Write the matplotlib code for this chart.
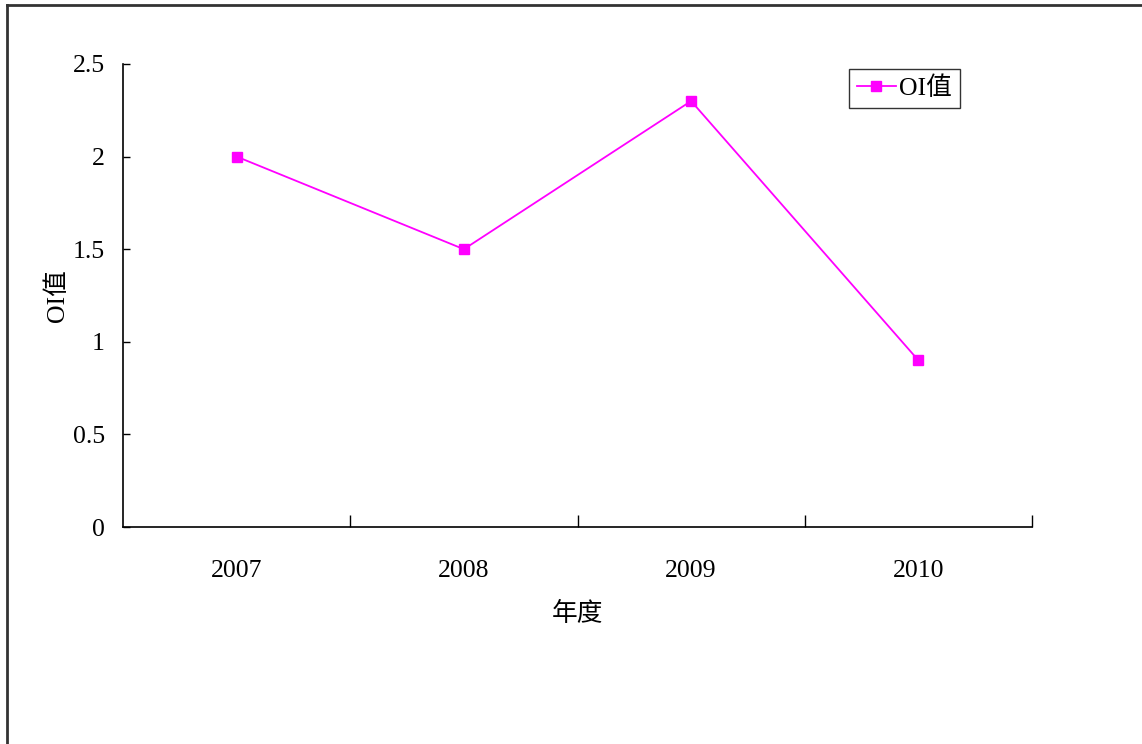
import matplotlib
matplotlib.use("Agg")
import matplotlib.pyplot as plt
from matplotlib.lines import Line2D

years = ["2007", "2008", "2009", "2010"]
oi_values = [2.0, 1.5, 2.3, 0.9]
series_name = "OI值"
y_ticks = [0, 0.5, 1, 1.5, 2, 2.5]
y_tick_labels = ["0", "0.5", "1", "1.5", "2", "2.5"]

plt.rcParams['font.family'] = ['Liberation Serif', 'Noto Sans CJK TC', 'DejaVu Sans']
FS = 18.5

fig = plt.figure(figsize=(11.42, 7.44), dpi=100)
ax = fig.add_axes([123/1142, 1-527/744, (1032-123)/1142, (527-64)/744])

x = list(range(len(years)))
ax.plot(x, oi_values, color='#FF00FF', lw=1.3, marker='s', ms=6.5,
        markerfacecolor='#FF00FF', markeredgecolor='#FF00FF', label=series_name)

ax.set_xlim(-0.5, len(years) - 0.5)
ax.set_ylim(0, 2.5)
ax.set_yticks(y_ticks)
ax.set_yticklabels(y_tick_labels, fontsize=FS)
ax.tick_params(axis='y', direction='in', length=5, width=1, pad=13)

ax.set_xticks(x)
ax.set_xticklabels(years, fontsize=FS)
ax.set_xticks([i + 0.5 for i in x], minor=True)
ax.tick_params(axis='x', which='major', length=0, pad=24)
ax.tick_params(axis='x', which='minor', direction='in', length=9, width=1)

for s in ['top', 'right']:
    ax.spines[s].set_visible(False)
ax.spines['left'].set_linewidth(1.2)
ax.spines['bottom'].set_linewidth(1.2)

ax.set_xlabel("年度", fontsize=FS, labelpad=14)
ax.set_ylabel(series_name, fontsize=FS, labelpad=3)

leg = ax.legend(loc='upper right', bbox_to_anchor=((960-123)/909, (527-69)/463),
                fontsize=FS, frameon=True, fancybox=False, handlelength=1.5,
                borderpad=0.3, handletextpad=0.15, borderaxespad=0)
leg.get_frame().set_edgecolor('black')
leg.get_frame().set_linewidth(1.0)

# outer chart frame (top and left edges)
fig.add_artist(Line2D([7/1142, 1], [1-5/744, 1-5/744], transform=fig.transFigure, color='#333333', lw=2))
fig.add_artist(Line2D([7/1142, 7/1142], [0, 1-5/744], transform=fig.transFigure, color='#333333', lw=2))

fig.savefig("out.png", dpi=100)
